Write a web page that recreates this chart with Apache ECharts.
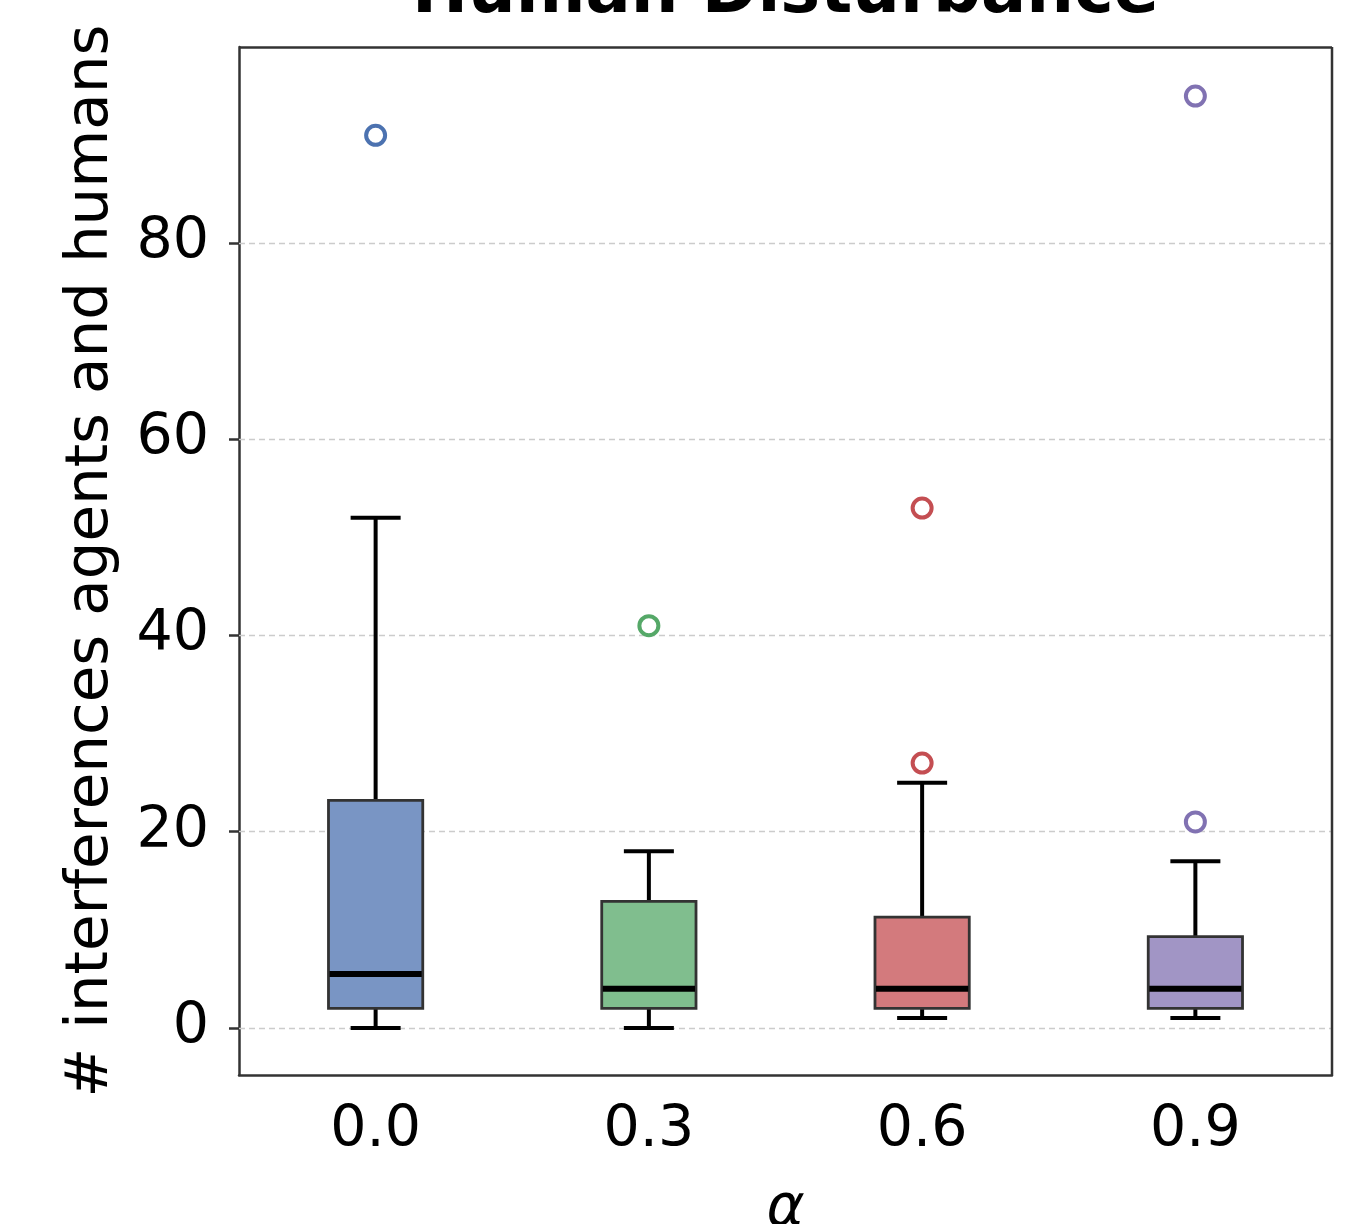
<!DOCTYPE html>
<html>
<head>
<meta charset="utf-8">
<script src="https://cdn.jsdelivr.net/npm/echarts@6/dist/echarts.min.js"></script>
<style>
  html, body { margin: 0; padding: 0; background: #fff; }
  #chart { width: 1366px; height: 1224px; }
</style>
</head>
<body>
<div id="chart"></div>
<script>
const categories = ['0.0', '0.3', '0.6', '0.9']
// [low whisker, Q1, median, Q3, high whisker]
const boxStats = [
  [0, 2, 5.5, 23.2, 52],
  [0, 2, 4, 12.9, 18],
  [1, 2, 4, 11.3, 25],
  [1, 2, 4, 9.3, 17]
]
// [category index, value]
const outliers = [
  [0, 91],
  [1, 41],
  [2, 27],
  [2, 53],
  [3, 21],
  [3, 95]
]
const yTicks = [0, 20, 40, 60, 80]

const edgeColors = ['#4c72b0', '#55a868', '#c44e52', '#8172b2']
const fillColors = ['#7995c4', '#80be8e', '#d37a7d', '#a195c5']
const font = 'DejaVu Sans'

const chart = echarts.init(document.getElementById('chart'))

const renderBox = (params, api) => {
  const idx = api.value(0)
  const low = api.coord([idx, api.value(1)])
  const q1 = api.coord([idx, api.value(2)])
  const med = api.coord([idx, api.value(3)])
  const q3 = api.coord([idx, api.value(4)])
  const high = api.coord([idx, api.value(5)])
  const band = api.size([1, 0])[0]
  const bw = band * 0.345
  const cw = band * 0.183
  const x = low[0]
  const whisker = { stroke: '#000', lineWidth: 4 }
  return {
    type: 'group',
    children: [
      { type: 'line', shape: { x1: x, y1: q3[1], x2: x, y2: high[1] }, style: whisker },
      { type: 'line', shape: { x1: x, y1: q1[1], x2: x, y2: low[1] }, style: whisker },
      { type: 'line', shape: { x1: x - cw / 2, y1: high[1], x2: x + cw / 2, y2: high[1] }, style: whisker },
      { type: 'line', shape: { x1: x - cw / 2, y1: low[1], x2: x + cw / 2, y2: low[1] }, style: whisker },
      {
        type: 'rect',
        shape: { x: x - bw / 2, y: q3[1], width: bw, height: q1[1] - q3[1] },
        style: { fill: fillColors[idx], stroke: '#333', lineWidth: 2.8 }
      },
      { type: 'line', shape: { x1: x - bw / 2 + 1, y1: med[1], x2: x + bw / 2 - 1, y2: med[1] }, style: { stroke: '#000', lineWidth: 6 } }
    ]
  }
}

const option = {
  backgroundColor: '#fff',
  animation: false,
  grid: { left: 239, right: 34, top: 47, bottom: 149, containLabel: false, outerBoundsMode: 'none' },
  xAxis: {
    type: 'category',
    data: categories,
    name: 'α',
    nameLocation: 'middle',
    nameGap: 106,
    nameTextStyle: { fontFamily: font, fontSize: 58, fontStyle: 'italic', color: '#000' },
    axisLine: { onZero: false, lineStyle: { color: '#333', width: 2.5 } },
    axisTick: { alignWithLabel: true, length: 10, lineStyle: { color: '#333', width: 2.5 } },
    axisLabel: { color: '#000', fontFamily: font, fontSize: 57, margin: 28 },
    splitLine: { show: false }
  },
  yAxis: {
    type: 'value',
    min: -4.8,
    max: 100,
    name: '# interferences agents and humans',
    nameLocation: 'middle',
    nameGap: 117,
    nameTextStyle: { fontFamily: font, fontSize: 59.5, color: '#000' },
    axisLine: { show: true, lineStyle: { color: '#333', width: 2.5 } },
    axisTick: { show: true, length: 10, customValues: yTicks, lineStyle: { color: '#333', width: 2.5 } },
    axisLabel: { color: '#000', fontFamily: font, fontSize: 57, margin: 30, customValues: yTicks },
    splitLine: { show: false }
  },
  series: [
    {
      type: 'line',
      data: [],
      z: 1,
      markLine: {
        silent: true,
        z: 1,
        symbol: 'none',
        label: { show: false },
        lineStyle: { color: '#cccccc', type: [6, 4], width: 1.3 },
        data: yTicks.map(v => ({ yAxis: v }))
      }
    },
    {
      type: 'custom',
      z: 6,
      renderItem: renderBox,
      encode: { x: 0, y: [1, 2, 3, 4, 5] },
      data: boxStats.map((s, i) => [i, ...s])
    },
    {
      type: 'scatter',
      z: 7,
      symbol: 'circle',
      symbolSize: 19,
      data: outliers.map(([i, v]) => ({
        value: [i, v],
        itemStyle: { color: '#fff', borderColor: edgeColors[i], borderWidth: 4, opacity: 1 }
      }))
    },
    {
      // top frame line
      type: 'line',
      data: [],
      markLine: {
        silent: true,
        symbol: 'none',
        label: { show: false },
        lineStyle: { color: '#333', type: 'solid', width: 2.5 },
        data: [{ yAxis: 100 }]
      }
    }
  ]
}

chart.setOption(option)

// title and right frame edge, placed from the grid rect
const rect = chart.getModel().getComponent('grid').coordinateSystem.getRect()
chart.setOption({
  graphic: [
    {
      type: 'text',
      x: rect.x + rect.width / 2,
      y: -39,
      style: { text: 'Human Disturbance', font: 'bold 67px "DejaVu Sans"', fill: '#000', align: 'center', verticalAlign: 'top' }
    },
    {
      type: 'line',
      shape: { x1: rect.x + rect.width, y1: rect.y, x2: rect.x + rect.width, y2: rect.y + rect.height },
      style: { stroke: '#333', lineWidth: 2.5 },
      z: 10
    }
  ]
})
</script>
</body>
</html>
